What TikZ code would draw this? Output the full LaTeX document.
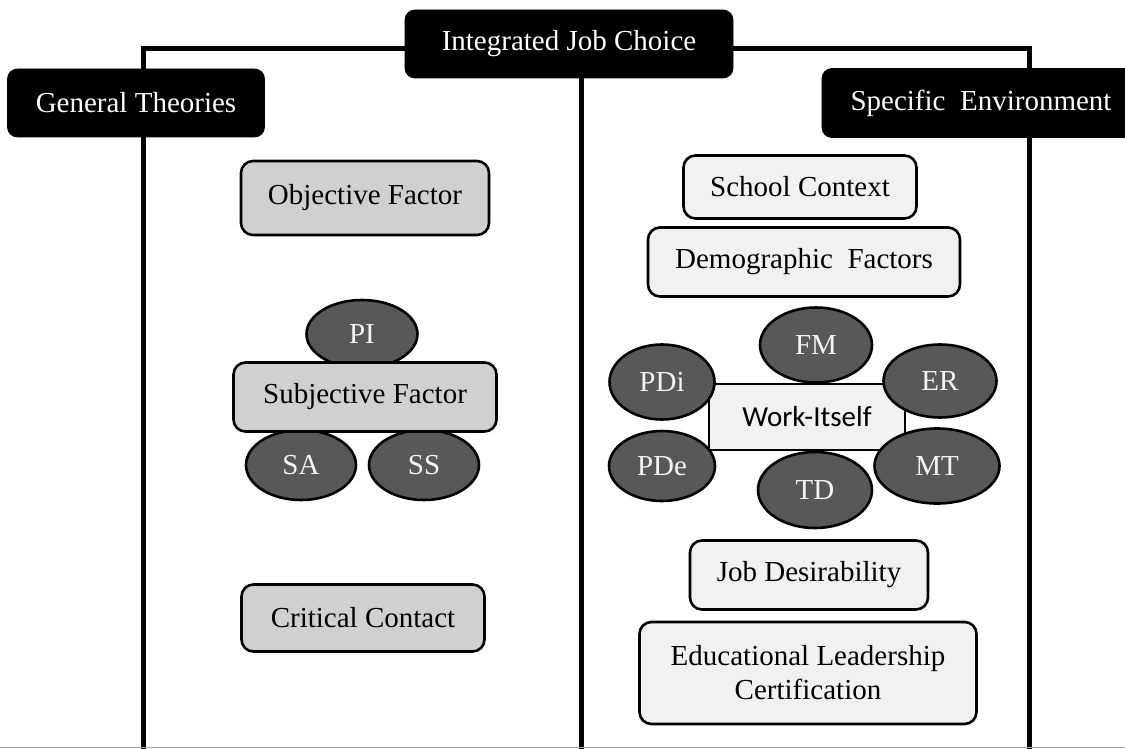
\documentclass[tikz,border=0pt]{standalone}
\usepackage{fontspec}
\setmainfont{Liberation Serif}
\newfontfamily\wisans{Carlito}
\usetikzlibrary{shapes.geometric}
\definecolor{boxgrey}{HTML}{D0D0D0}
\definecolor{boxlight}{HTML}{F1F1F1}
\definecolor{ovalfill}{HTML}{585858}
\definecolor{ovaltext}{HTML}{F4F4F4}
\tikzset{
  headbox/.style={draw=black, fill=black, rounded corners=5pt, text=white,
    font=\fontsize{14.5}{17}\selectfont, inner sep=0pt, align=center},
  greybox/.style={draw=black, line width=1.3pt, fill=boxgrey, rounded corners=6pt,
    font=\fontsize{14.5}{17}\selectfont, inner sep=0pt, align=center},
  lightbox/.style={draw=black, line width=1.3pt, fill=boxlight, rounded corners=6pt,
    font=\fontsize{14.5}{17}\selectfont, inner sep=0pt, align=center},
  oval/.style={ellipse, draw=black, line width=1.3pt, fill=ovalfill, text=ovaltext,
    font=\fontsize{14.5}{17}\selectfont, inner sep=0pt},
  frameline/.style={line width=2.5pt, black}
}
\begin{document}
\begin{tikzpicture}[x=0.5pt, y=-0.5pt]
\useasboundingbox (0,0) rectangle (1125,749);
\fill[white] (0,0) rectangle (1125,749);

% outer frame of the two columns
\coordinate (fl) at (143,749);
\coordinate (ftl) at (143,49);
\coordinate (ftr) at (1029,49);
\coordinate (fr) at (1029,749);
\coordinate (fm) at (581,749);
\draw[frameline] (fl) -- (ftl) -- (ftr) -- (fr);

% heading boxes
\node[headbox, minimum width=164pt, minimum height=34pt] (ijc) at (569,44) {Integrated Job Choice};
\draw[frameline] (ijc.south -| fm) -- (fm);
\node[headbox, minimum width=128.5pt, minimum height=34pt] (gt) at (136,103) {General Theories};
\node[headbox, minimum width=159pt, minimum height=34.5pt] (se) at (981,103) {Specific\ \ Environment};

% left column: general theories
\node[greybox, minimum width=124pt, minimum height=37pt] (obj) at (365,198) {Objective Factor};
\node[oval, minimum width=55.5pt, minimum height=34pt] (pi) at (362,334) {PI};
\node[oval, minimum width=55pt, minimum height=35pt] (sa) at (301,465) {SA};
\node[oval, minimum width=55pt, minimum height=35pt] (ss) at (424,465) {SS};
\node[greybox, minimum width=131.5pt, minimum height=34.5pt] (subj) at (365,397) {Subjective Factor};
\node[greybox, minimum width=121.5pt, minimum height=33.5pt] (cc) at (363,618) {Critical Contact};

% right column: specific environment
\node[lightbox, minimum width=116.5pt, minimum height=31.5pt] (sc) at (800,187) {School Context};
\node[lightbox, minimum width=156pt, minimum height=34.5pt] (df) at (804,262) {Demographic\ \ Factors};
\node[draw=black, line width=1.3pt, fill=boxlight, minimum width=98pt, minimum height=33pt,
  font=\wisans\fontsize{14.5}{17}\selectfont, inner sep=0pt] (wi) at (807,417) {Work-Itself};
\node[oval, minimum width=56pt, minimum height=37.5pt] (fmo) at (816,345) {FM};
\node[oval, minimum width=52.5pt, minimum height=37.5pt] (pdi) at (662,382) {PDi};
\node[oval, minimum width=56.5pt, minimum height=36.5pt] (er) at (940,381) {ER};
\node[oval, minimum width=53pt, minimum height=35pt] (pde) at (662,466) {PDe};
\node[oval, minimum width=57pt, minimum height=38pt] (td) at (815,490) {TD};
\node[oval, minimum width=62.5pt, minimum height=37.5pt] (mt) at (937,466) {MT};
\node[lightbox, minimum width=119pt, minimum height=34.5pt] (jd) at (809,575) {Job Desirability};
\node[lightbox, minimum width=168.5pt, minimum height=51pt] (elc) at (808,673) {Educational Leadership\\Certification};

% thin edge along the foot
\coordinate (bl) at (0,747.5);
\coordinate (br) at (1125,747.5);
\draw[line width=0.8pt, black!35] (bl) -- (br);
\end{tikzpicture}
\end{document}
